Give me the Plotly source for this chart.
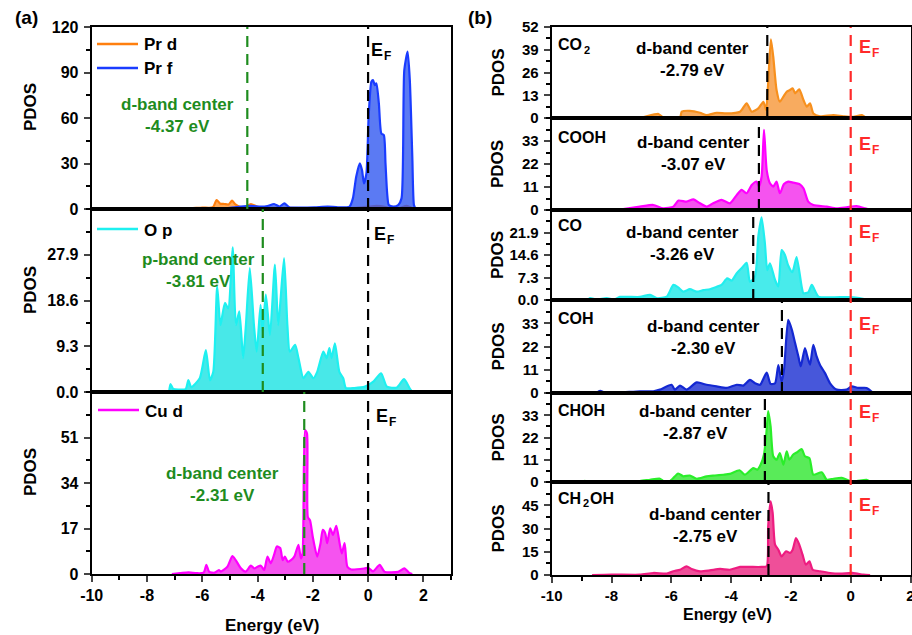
import plotly.graph_objects as go

W, H = 912, 635

# ---------------- DATA ----------------
# Panel (a) top: Pr d / Pr f
pr_d_E = [-7.15, -6.8, -6.4, -6.0, -5.75, -5.6, -5.48, -5.35, -5.2, -5.05, -4.92, -4.8, -4.65, -4.45,
          -4.24, -4.0, -3.6, -3.0, -2.0, -1.0, -0.5, 0.0, 0.3, 0.6, 0.8, 1.1, 1.4, 1.6, 1.7]
pr_d_pdos = [0, 0.3, 0.4, 1.0, 0.8, 1.5, 5.9, 3.5, 3.3, 3.0, 5.5, 3.0, 1.5, 1.3,
             3.3, 1.5, 0.8, 0.7, 0.5, 0.5, 0.7, 1.5, 2.0, 1.5, 0.5, 0.5, 2.0, 0.5, 0]
pr_f_E = [-5.5, -5.0, -4.61, -4.24, -3.88, -3.64, -3.4, -3.21, -3.03, -2.85, -2.43, -1.94, -1.46, -1.09,
          -0.67, -0.55, -0.43, -0.3, -0.22, -0.15, -0.06, 0.02, 0.12, 0.18, 0.24, 0.3, 0.39, 0.48,
          0.57, 0.63, 0.69, 0.75, 0.91, 1.09, 1.21, 1.31, 1.43, 1.51, 1.6, 1.66, 1.72]
pr_f_pdos = [0, 0.8, 1.6, 2.0, 1.6, 2.0, 3.3, 1.6, 3.7, 1.1, 0.9, 1.1, 1.6, 1.1,
             1.6, 7.0, 21.3, 30.1, 25.7, 16.9, 23.5, 60.8, 83.9, 85.0, 81.7, 82.8, 69.6, 49.8,
             48.7, 30.1, 10.3, 2.6, 1.6, 2.6, 7.0, 91.6, 103.7, 85.0, 34.5, 2.6, 0]

# Panel (a) middle: O p
o_p_E = [-7.2, -7.15, -7.05, -6.8, -6.6, -6.5, -6.4, -6.09, -5.87, -5.72, -5.6, -5.46, -5.34, -5.18,
         -5.06, -4.9, -4.78, -4.66, -4.52, -4.42, -4.28, -4.13, -4.03, -3.89, -3.82, -3.7, -3.55,
         -3.37, -3.25, -3.04, -2.92, -2.83, -2.64, -2.52, -2.34, -2.16, -1.98, -1.84, -1.62, -1.5,
         -1.4, -1.32, -1.2, -1.04, -0.9, -0.8, -0.5, -0.11, 0.19, 0.47, 0.68, 1.04, 1.3, 1.52, 1.6]
o_p_pdos = [0, 1.6, 0.6, 0.5, 0.6, 2.4, 1.0, 2.8, 8.5, 2.4, 4.1, 21.5, 13.6, 18.1,
            17.0, 29.4, 13.6, 16.4, 6.9, 13.6, 25.2, 13.6, 8.2, 17.7, 12.3, 19.8, 11.6,
            25.9, 13.6, 27.2, 13.6, 8.2, 9.6, 6.9, 2.8, 4.1, 2.8, 4.1, 8.2, 6.9,
            8.9, 6.9, 9.9, 4.1, 2.8, 0.8, 0.8, 1.1, 2.1, 3.8, 1.1, 0.9, 2.6, 0.6, 0]

# Panel (a) bottom: Cu d
cu_d_E = [-7.1, -6.8, -6.5, -6.2, -5.95, -5.85, -5.75, -5.55, -5.4, -5.33, -5.09, -4.91, -4.79, -4.6,
          -4.43, -4.24, -4.12, -4.0, -3.88, -3.76, -3.64, -3.52, -3.4, -3.3, -3.18, -3.09, -3.01,
          -2.91, -2.79, -2.67, -2.52, -2.43, -2.37, -2.28, -2.21, -2.18, -2.1, -2.0, -1.84, -1.72,
          -1.64, -1.55, -1.48, -1.37, -1.27, -1.15, -1.03, -0.95, -0.85, -0.75, -0.61, -0.12, 0.0,
          0.18, 0.42, 0.6, 1.09, 1.31, 1.51, 1.6]
cu_d_pdos = [0, 0.3, 0.6, 0.3, 0.5, 3.4, 0.8, 0.5, 1.5, 0.9, 2.7, 6.7, 5.2, 2.1,
             0.9, 3.1, 2.1, 2.7, 3.1, 1.5, 6.5, 4.0, 7.2, 10.3, 9.7, 5.2, 6.5,
             4.6, 5.2, 6.5, 10.9, 5.8, 7.7, 53.8, 52.5, 21.3, 20.0, 13.8, 6.5, 11.5,
             16.5, 15.2, 11.5, 17.1, 14.6, 18.0, 11.5, 7.7, 11.5, 2.7, 1.7, 2.1, 2.3,
             1.0, 3.4, 0.8, 0.8, 2.1, 0.3, 0]

a_centers = [-4.37, -3.81, -2.31]
a_center_labels = ["d-band center", "p-band center", "d-band center"]

# Panel (b): Cu d PDOS with adsorbates
co2_E = [-7.72, -7.05, -6.43, -6.27, -5.71, -5.65, -5.38, -5.04, -4.82, -4.48, -4.15, -3.7, -3.48,
         -3.31, -3.09, -2.92, -2.83, -2.76, -2.67, -2.59, -2.48, -2.37, -2.25, -2.14, -2.03, -1.94,
         -1.86, -1.72, -1.58, -1.47, -1.36, -1.25, -1.03, -0.58, -0.25, 0.09, 0.37, 0.53]
co2_pdos = [0, 0.2, 2.3, 0.2, 0.2, 3.6, 4.1, 3.0, 1.7, 3.0, 2.6, 3.6, 8.4,
            3.6, 5.5, 9.3, 4.6, 20.0, 45.0, 35.0, 16.0, 9.3, 12.2, 15.0, 16.0, 17.0,
            14.1, 16.4, 10.3, 6.5, 8.4, 2.6, 1.0, 1.7, 1.0, 0.6, 1.7, 0]

cooh_E = [-7.83, -7.05, -6.6, -6.27, -5.93, -5.76, -5.49, -5.26, -5.04, -4.82, -4.6, -4.32, -4.04,
          -3.81, -3.65, -3.48, -3.31, -3.15, -3.07, -2.98, -2.9, -2.81, -2.7, -2.59, -2.48, -2.37,
          -2.23, -2.09, -1.92, -1.72, -1.58, -1.42, -1.25, -0.8, -0.47, -0.14, 0.2, 0.48, 0.65]
cooh_pdos = [0, 1.6, 2.4, 0.8, 1.6, 4.5, 4.0, 5.1, 3.2, 1.6, 3.2, 4.8, 3.2,
             7.2, 9.6, 8.0, 11.9, 13.6, 11.2, 15.9, 38.3, 19.1, 12.8, 11.2, 13.6, 8.0,
             12.4, 13.6, 13.1, 12.4, 10.4, 4.0, 2.4, 1.6, 0.8, 1.3, 1.9, 0.8, 0]

co_E = [-8.8, -8.72, -8.5, -8.16, -7.9, -7.72, -7.05, -6.71, -6.49, -6.15, -5.93, -5.77, -5.6, -5.38,
        -5.15, -4.93, -4.71, -4.48, -4.32, -4.13, -3.98, -3.81, -3.65, -3.48, -3.37, -3.2, -3.09,
        -2.98, -2.87, -2.79, -2.7, -2.53, -2.42, -2.31, -2.2, -2.09, -1.95, -1.81, -1.64, -1.58,
        -1.42, -1.3, -1.08, -0.58, 0.09, 0.65]
co_pdos = [0, 0.6, 0.2, 0.6, 0.2, 1.0, 1.0, 1.7, 0.6, 1.1, 4.9, 4.1, 2.7, 3.5,
           2.7, 3.2, 3.5, 4.3, 4.9, 7.0, 6.3, 8.7, 10.3, 12.1, 5.9, 7.6, 20.6,
           26.8, 18.4, 9.7, 11.9, 6.5, 4.4, 16.2, 14.6, 11.2, 9.0, 13.9, 4.3, 2.2,
           2.5, 4.9, 1.1, 0.9, 0.9, 0]

coh_E = [-8.5, -8.38, -8.2, -7.05, -6.6, -6.38, -5.99, -5.88, -5.71, -5.49, -5.15, -4.82, -4.48,
         -4.15, -3.81, -3.59, -3.37, -3.2, -3.03, -2.81, -2.68, -2.53, -2.42, -2.31, -2.23, -2.09,
         -1.97, -1.86, -1.75, -1.67, -1.53, -1.45, -1.36, -1.25, -1.14, -1.03, -0.86, -0.69, -0.47,
         -0.14, 0.03, 0.25, 0.53, 0.76]
coh_pdos = [0, 1.0, 0, 0.8, 0.8, 1.6, 3.9, 1.6, 3.5, 1.6, 5.0, 3.9, 3.1,
            2.4, 3.9, 3.5, 6.2, 4.6, 3.9, 9.6, 4.3, 4.6, 13.2, 5.4, 10.9, 34.6,
            30.0, 23.6, 17.3, 12.6, 21.3, 17.3, 13.4, 22.8, 17.3, 13.4, 9.4, 4.6, 1.6,
            1.6, 3.1, 2.4, 2.4, 0]

choh_E = [-8.95, -8.89, -8.8, -7.6, -7.05, -6.71, -6.38, -6.27, -6.04, -5.77, -5.6, -5.38, -5.15,
          -4.82, -4.54, -4.26, -4.04, -3.72, -3.54, -3.26, -3.12, -3.01, -2.9, -2.81, -2.76, -2.68,
          -2.59, -2.48, -2.37, -2.25, -2.14, -2.05, -1.92, -1.79, -1.64, -1.53, -1.38, -1.25, -0.97,
          -0.8, -0.58, -0.3, -0.02, 0.2, 0.53, 0.67]
choh_pdos = [0, 0.6, 0, 0.2, 0.5, 1.1, 1.6, 0.5, 0.5, 4.2, 2.8, 3.2, 1.6,
             2.8, 3.2, 3.6, 4.0, 5.8, 3.6, 6.9, 6.1, 8.6, 13.6, 25.9, 35.0, 27.6,
             12.7, 11.0, 14.3, 8.6, 15.2, 11.1, 13.6, 14.7, 16.3, 12.7, 11.8, 3.6, 4.8,
             1.1, 1.6, 2.1, 0.5, 0.5, 1.1, 0]

ch2oh_E = [-8.65, -8.0, -7.05, -6.6, -6.15, -5.93, -5.71, -5.49, -5.32, -5.04, -4.71, -4.37, -4.04,
           -3.7, -3.37, -2.98, -2.81, -2.76, -2.68, -2.61, -2.53, -2.42, -2.31, -2.16, -2.03, -1.94,
           -1.83, -1.72, -1.61, -1.5, -1.38, -1.27, -1.03, -0.69, -0.36, 0.09, 0.42, 0.65]
ch2oh_pdos = [0, 0.3, 0.2, 1.3, 0.9, 2.4, 3.4, 5.6, 3.9, 2.4, 3.0, 3.9, 3.4,
              5.2, 5.2, 5.2, 5.6, 31.4, 47.5, 40.0, 19.6, 16.3, 12.0, 15.3, 14.2, 16.3,
              23.8, 19.6, 13.1, 6.7, 8.8, 3.4, 2.4, 1.3, 0.9, 1.3, 0.2, 0]

# species label pieces: (main text, subscript, following text)
b_species = [("CO", "2", ""), ("COOH", "", ""), ("CO", "", ""), ("COH", "", ""),
             ("CHOH", "", ""), ("CH", "2", "OH")]
b_centers = [-2.79, -3.07, -3.26, -2.30, -2.87, -2.75]

x_ticks = [-10, -8, -6, -4, -2, 0, 2]

# ---------------- STYLE ----------------
FONT = "Liberation Sans, Arial, sans-serif"
GREEN = "#1E8C1E"
RED = "#FF2A2A"

def px2x(px):
    return px / W

def px2y(py):
    return 1 - py / H

def xname(i):
    return "x" if i == 1 else f"x{i}"

def yname(i):
    return "y" if i == 1 else f"y{i}"

left_x = [91.7, 451.0]
right_x = [551.7, 910.5]
left_rows = [(27, 209), (209, 392), (392, 574)]
right_rows = [(27, 118), (118, 210), (210, 300), (300, 393), (393, 482), (482, 575)]

fig = go.Figure()
layout = dict(width=W, height=H, margin=dict(l=0, r=0, t=0, b=0, autoexpand=False),
              paper_bgcolor="white", plot_bgcolor="white", showlegend=False,
              font=dict(family=FONT, size=15, color="black", weight="bold"))

# y-axis configs: (range, tickvals, tickformat, minor)
a_yaxes = [([0, 120], [0, 30, 60, 90, 120], "d", 15),
           ([0, 37.2], [0, 9.3, 18.6, 27.9], ".1f", 4.65),
           ([0, 68], [0, 17, 34, 51], "d", 8.5)]
b_yaxes = [([0, 52], [0, 13, 26, 39, 52], "d", 6.5),
           ([0, 44], [0, 11, 22, 33], "d", 5.5),
           ([0, 29.2], [0, 7.3, 14.6, 21.9], ".1f", 3.65),
           ([0, 44], [0, 11, 22, 33], "d", 5.5),
           ([0, 44], [0, 11, 22, 33], "d", 5.5),
           ([0, 60], [0, 15, 30, 45], "d", 7.5)]

def add_axes(idx, xdom, rows, yconf, xrange, bottom, tick_size):
    xa = "xaxis" if idx == 1 else f"xaxis{idx}"
    ya = "yaxis" if idx == 1 else f"yaxis{idx}"
    rng, tv, fmt, minor = yconf
    tf = dict(family=FONT, size=tick_size, color="black", weight="bold")
    layout[xa] = dict(domain=[px2x(xdom[0]), px2x(xdom[1])], anchor=yname(idx), range=xrange,
                      automargin=False,
                      showline=True, linecolor="black", linewidth=2, mirror=True,
                      showgrid=False, zeroline=False,
                      tickmode="array", tickvals=x_ticks, ticktext=[str(v) for v in x_ticks],
                      ticks="outside" if bottom else "", ticklen=6, tickwidth=2,
                      ticklabelstandoff=0, ticklabeloverflow="allow",
                      showticklabels=bottom, tickfont=tf,
                      minor=dict(ticks="outside" if bottom else "", ticklen=3.5, tickwidth=1.5,
                                 tickmode="linear", tick0=-10, dtick=1, tickcolor="black"))
    layout[ya] = dict(domain=[px2y(rows[1]), px2y(rows[0])], anchor=xname(idx), range=rng,
                      automargin=False,
                      showline=True, linecolor="black", linewidth=2, mirror=True,
                      showgrid=False, zeroline=False,
                      tickmode="array", tickvals=tv,
                      ticktext=[format(v, fmt) if fmt != "d" else str(int(v)) for v in tv],
                      ticks="outside", ticklen=6, tickwidth=2, tickfont=tf,
                      ticklabelstandoff=2,
                      minor=dict(ticks="outside", ticklen=3.5, tickwidth=1.5,
                                 tickmode="linear", tick0=0, dtick=minor, tickcolor="black"))

for i in range(3):
    add_axes(i + 1, left_x, left_rows[i], a_yaxes[i], [-10, 3], i == 2, 16)
for i in range(6):
    add_axes(i + 4, right_x, right_rows[i], b_yaxes[i], [-10, 2], i == 5, 15)

def add_pdos(E, D, idx, line_color, fill_color):
    fig.add_trace(go.Scatter(x=E, y=D, mode="lines", fill="tozeroy",
                             line=dict(color=line_color, width=2.2, shape="spline", smoothing=0.6),
                             fillcolor=fill_color, xaxis=xname(idx), yaxis=yname(idx),
                             hoverinfo="skip"))

add_pdos(pr_d_E, pr_d_pdos, 1, "#FF7F0E", "rgba(255,140,30,0.75)")
add_pdos(pr_f_E, pr_f_pdos, 1, "#1A3CFF", "rgba(45,85,240,0.78)")
add_pdos(o_p_E, o_p_pdos, 2, "#1EF0F0", "rgba(40,228,228,0.85)")
add_pdos(cu_d_E, cu_d_pdos, 3, "#FF00FF", "rgba(242,40,235,0.8)")

b_series = [(co2_E, co2_pdos, "#F7901E", "rgba(246,150,55,0.8)"),
            (cooh_E, cooh_pdos, "#FF00FF", "rgba(242,40,235,0.8)"),
            (co_E, co_pdos, "#22EEEE", "rgba(40,232,232,0.85)"),
            (coh_E, coh_pdos, "#1428D2", "rgba(30,50,210,0.82)"),
            (choh_E, choh_pdos, "#2AEE2A", "rgba(60,232,60,0.85)"),
            (ch2oh_E, ch2oh_pdos, "#EE1C80", "rgba(235,40,130,0.82)")]
for i, (E, D, lc, fc) in enumerate(b_series):
    add_pdos(E, D, i + 4, lc, fc)

shapes = []
annotations = []
DASH = "11px,7px"

def vline(idx, xv, color):
    shapes.append(dict(type="line", xref=xname(idx), yref=f"{yname(idx)} domain", x0=xv, x1=xv,
                       y0=0, y1=1, line=dict(color=color, width=2.2, dash=DASH), layer="above"))

def text(px_x, px_y, s, size=17, color="black", xanchor="center", angle=0):
    annotations.append(dict(x=px2x(px_x), y=px2y(px_y), xref="paper", yref="paper", text=s,
                            showarrow=False, xanchor=xanchor, yanchor="middle", textangle=angle,
                            font=dict(family=FONT, size=size, color=color, weight="bold")))

def ef_label(px_x, px_y, color):
    # "E" with subscript "F", drawn as two texts
    text(px_x, px_y, "E", size=18, color=color, xanchor="left")
    text(px_x + 12.5, px_y + 6, "F", size=12, color=color, xanchor="left")

def legend_line(x0, x1, y, color, label):
    shapes.append(dict(type="line", xref="paper", yref="paper", x0=px2x(x0), x1=px2x(x1),
                       y0=px2y(y), y1=px2y(y), line=dict(color=color, width=2.5)))
    text(x1 + 4, y + 1, label, size=17, xanchor="left")

# Panel (a) decorations
for i in range(3):
    vline(i + 1, a_centers[i], GREEN)
    vline(i + 1, 0, "black")
legend_line(97, 138, 44, "#FF7F0E", "Pr d")
legend_line(97, 138, 68, "#1A3CFF", "Pr f")
legend_line(97, 138, 229, "#1EF0F0", "O p")
legend_line(98, 139, 410, "#FF00FF", "Cu d")

a_text_pos = [(177, 116), (198, 271), (222, 484)]
for (tx, ty), lab, c in zip(a_text_pos, a_center_labels, a_centers):
    text(tx, ty, f"{lab}<br>{c:.2f} eV", size=17, color=GREEN)
a_ef_pos = [(369, 50), (372, 234), (374, 416)]
for tx, ty in a_ef_pos:
    ef_label(tx, ty, "black")
a_pdos_y = [107, 290, 472]
for ty in a_pdos_y:
    text(30, ty, "PDOS", size=17, angle=-90)
text(272, 625, "Energy (eV)", size=17)
text(26, 17, "(a)", size=19)

# Panel (b) decorations
for i in range(6):
    vline(i + 4, b_centers[i], "black")
    vline(i + 4, 0, RED)
b_text_pos = [(692, 59), (693, 154), (682, 244), (703, 337), (695, 423), (705, 525)]
b_label_y = [45, 138, 225, 318, 410, 498]
b_ef_y = [47, 144, 232, 324, 412, 505]
CHAR_W = {"C": 0.722, "O": 0.778, "H": 0.722}
for i in range(6):
    tx, ty = b_text_pos[i]
    text(tx, ty, f"d-band center<br>{b_centers[i]:.2f} eV", size=17)
    main, sub, tail = b_species[i]
    lx = 556
    text(lx, b_label_y[i], main, size=16, xanchor="left")
    if sub:
        sx = lx + 2 + sum(CHAR_W[c] for c in main) * 16
        text(sx, b_label_y[i] + 5, sub, size=11, xanchor="left")
        if tail:
            text(sx + 6.5, b_label_y[i], tail, size=16, xanchor="left")
    ef_label(857, b_ef_y[i], RED)
    r0, r1 = right_rows[i]
    text(498, (r0 + r1) / 2, "PDOS", size=17, angle=-90)
text(727, 614, "Energy (eV)", size=16)
text(480, 17, "(b)", size=19)

layout["shapes"] = shapes
layout["annotations"] = annotations
fig.update_layout(**layout)
fig.write_html("out.html")
